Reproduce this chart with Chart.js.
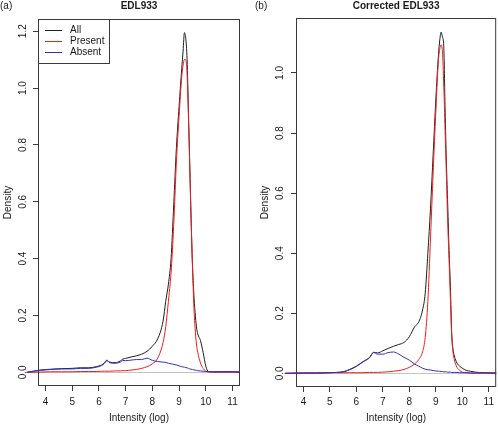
<!DOCTYPE html>
<html><head><meta charset="utf-8">
<script src="https://cdn.jsdelivr.net/npm/chart.js@4.4.0/dist/chart.umd.min.js"></script>
<style>
html,body{margin:0;padding:0;background:#fff;width:498px;height:425px;overflow:hidden}
canvas{position:absolute;top:0;display:block}
</style></head><body>
<canvas id="ca" width="249" height="425" style="left:0"></canvas>
<canvas id="cb" width="249" height="425" style="left:249px"></canvas>
<script>
// ---------- data ----------
const seriesNames = ['All', 'Present', 'Absent'];
const panelTitles = ['EDL933', 'Corrected EDL933'];
const panelTags = ['(a)', '(b)'];
const xTitle = 'Intensity (log)';
const yTitle = 'Density';
const xTicks = [4, 5, 6, 7, 8, 9, 10, 11];
const yTicksA = [0, 0.2, 0.4, 0.6, 0.8, 1.0, 1.2];
const yTicksB = [0, 0.2, 0.4, 0.6, 0.8, 1.0];

// panel (a) EDL933
const intensityA = [3.3, 3.8, 4.2, 4.6, 5.0, 5.3, 5.6, 5.9, 6.1, 6.2, 6.3, 6.4, 6.6, 6.8, 6.9, 7.0, 7.2, 7.4, 7.6, 7.8, 8.0, 8.2, 8.4, 8.5, 8.6, 8.7, 8.8, 8.9, 9.0, 9.1, 9.15, 9.2, 9.25, 9.3, 9.35, 9.4, 9.45, 9.5, 9.55, 9.6, 9.65, 9.7, 9.8, 9.9, 10.0, 10.1, 10.3, 10.6, 11.0, 11.28];
const allA = [0.000, 0.008, 0.011, 0.013, 0.014, 0.016, 0.016, 0.020, 0.026, 0.033, 0.043, 0.036, 0.034, 0.040, 0.047, 0.049, 0.054, 0.058, 0.064, 0.074, 0.092, 0.118, 0.180, 0.250, 0.310, 0.400, 0.590, 0.790, 0.935, 1.070, 1.130, 1.195, 1.175, 1.100, 0.920, 0.730, 0.540, 0.380, 0.280, 0.210, 0.160, 0.135, 0.112, 0.070, 0.022, 0.003, 0.002, 0.002, 0.002, 0.001];
const presentA = [0.000, 0.001, 0.002, 0.002, 0.002, 0.003, 0.003, 0.003, 0.004, 0.004, 0.004, 0.004, 0.005, 0.005, 0.006, 0.006, 0.008, 0.010, 0.014, 0.020, 0.030, 0.050, 0.105, 0.160, 0.250, 0.350, 0.520, 0.740, 0.900, 1.040, 1.080, 1.100, 1.100, 1.050, 0.900, 0.720, 0.540, 0.380, 0.240, 0.155, 0.100, 0.070, 0.033, 0.014, 0.004, 0.002, 0.001, 0.001, 0.001, 0.001];
const absentA = [0.000, 0.007, 0.010, 0.012, 0.012, 0.014, 0.014, 0.018, 0.024, 0.031, 0.041, 0.034, 0.032, 0.036, 0.042, 0.041, 0.043, 0.045, 0.045, 0.050, 0.042, 0.038, 0.036, 0.035, 0.032, 0.030, 0.028, 0.026, 0.023, 0.020, 0.019, 0.018, 0.017, 0.016, 0.014, 0.012, 0.011, 0.010, 0.009, 0.008, 0.007, 0.006, 0.005, 0.004, 0.003, 0.002, 0.002, 0.002, 0.002, 0.001];

// panel (b) Corrected EDL933
const intensityB = [3.3, 4.0, 4.5, 5.0, 5.25, 5.5, 5.75, 6.0, 6.25, 6.5, 6.65, 6.8, 7.0, 7.2, 7.4, 7.6, 7.8, 8.0, 8.2, 8.35, 8.5, 8.6, 8.7, 8.8, 8.9, 9.0, 9.1, 9.15, 9.2, 9.25, 9.3, 9.35, 9.4, 9.45, 9.5, 9.55, 9.6, 9.65, 9.7, 9.8, 9.9, 10.0, 10.15, 10.3, 10.5, 10.8, 11.28];
const allB = [0.000, 0.001, 0.001, 0.002, 0.003, 0.005, 0.013, 0.024, 0.039, 0.053, 0.070, 0.068, 0.075, 0.083, 0.090, 0.096, 0.103, 0.122, 0.155, 0.170, 0.211, 0.267, 0.400, 0.550, 0.730, 0.910, 1.060, 1.110, 1.136, 1.120, 1.089, 0.880, 0.700, 0.560, 0.410, 0.290, 0.135, 0.080, 0.058, 0.034, 0.024, 0.017, 0.010, 0.007, 0.004, 0.002, 0.001];
const presentB = [0.000, 0.001, 0.001, 0.002, 0.002, 0.002, 0.002, 0.002, 0.002, 0.003, 0.003, 0.003, 0.004, 0.005, 0.007, 0.009, 0.013, 0.020, 0.031, 0.045, 0.072, 0.120, 0.240, 0.450, 0.670, 0.870, 1.044, 1.080, 1.094, 1.070, 0.960, 0.810, 0.660, 0.500, 0.380, 0.250, 0.125, 0.070, 0.045, 0.020, 0.010, 0.004, 0.002, 0.001, 0.001, 0.001, 0.001];
const absentB = [0.000, 0.001, 0.001, 0.002, 0.003, 0.005, 0.012, 0.023, 0.038, 0.052, 0.069, 0.064, 0.064, 0.069, 0.071, 0.064, 0.053, 0.044, 0.031, 0.024, 0.017, 0.014, 0.012, 0.011, 0.009, 0.008, 0.007, 0.007, 0.006, 0.006, 0.005, 0.005, 0.005, 0.004, 0.004, 0.004, 0.003, 0.003, 0.003, 0.003, 0.002, 0.002, 0.002, 0.001, 0.001, 0.001, 0.001];

// ---------- styling ----------
const FONT = "'Liberation Sans', Arial, Helvetica, sans-serif";
const lineColors = ['#1e1e1e', '#f21c1c', '#2f2fc4'];
const axisColor = '#3a3a3a';
const textColor = '#1a1a1a';

function makePanel(id, xs, series, yMin, yMax, yTicks, title, tag, g, showLegend) {
  const datasets = series.map((ys, i) => ({
    label: seriesNames[i],
    data: xs.map((x, j) => ({ x: x, y: ys[j] })),
    borderColor: lineColors[i],
    borderWidth: 1,
    pointRadius: 0,
    cubicInterpolationMode: 'monotone',
    fill: false,
    clip: false,
    order: 3 - i
  }));
  const deco = {
    id: 'deco',
    beforeDatasetsDraw(chart) {
      const { ctx, chartArea: a, scales: { x, y } } = chart;
      const y0 = Math.round(y.getPixelForValue(0)) + 0.5;
      ctx.save();
      ctx.strokeStyle = '#c4c4c4';
      ctx.lineWidth = 1;
      ctx.beginPath();
      ctx.moveTo(x.getPixelForValue(xs[0]), y0);
      ctx.lineTo(a.right, y0);
      ctx.stroke();
      ctx.restore();
    },
    afterDraw(chart) {
      const { ctx, chartArea: a } = chart;
      ctx.save();
      ctx.strokeStyle = axisColor;
      ctx.lineWidth = 1;
      ctx.strokeRect(a.left + 0.5, a.top + 0.5, a.right - a.left - 1, a.bottom - a.top - 1);
      ctx.fillStyle = textColor;
      ctx.textBaseline = 'middle';
      ctx.font = 'bold 10px ' + FONT;
      ctx.textAlign = 'center';
      ctx.fillText(title, (a.left + a.right) / 2, 6);
      ctx.font = '10px ' + FONT;
      ctx.textAlign = 'left';
      ctx.fillText(tag, g.tagX, 6);
      if (showLegend) {
        const lx = a.left + 0.5, ly = a.top + 0.5;
        ctx.strokeStyle = axisColor;
        ctx.strokeRect(lx, ly, 71, 44);
        seriesNames.forEach((nm, i) => {
          const yy = a.top + 11 + i * 11;
          ctx.strokeStyle = lineColors[i];
          ctx.beginPath();
          ctx.moveTo(a.left + 7, yy + 0.5);
          ctx.lineTo(a.left + 24, yy + 0.5);
          ctx.stroke();
          ctx.fillStyle = textColor;
          ctx.fillText(nm, a.left + 32, yy + 0.5);
        });
      }
      ctx.restore();
    }
  };
  const tickFont = { family: FONT, size: 10 };
  return new Chart(document.getElementById(id), {
    type: 'line',
    data: { datasets },
    plugins: [deco],
    options: {
      responsive: false,
      animation: false,
      devicePixelRatio: 1,
      layout: { padding: { left: 0, right: g.padR, top: g.padT, bottom: 0 } },
      plugins: { legend: { display: false }, tooltip: { enabled: false }, title: { display: false } },
      scales: {
        x: {
          type: 'linear', min: 3.72, max: 11.28,
          afterBuildTicks: ax => { ax.ticks = xTicks.map(v => ({ value: v })); },
          afterFit: ax => { ax.height = g.xH; },
          grid: { display: true, drawOnChartArea: false, drawTicks: true, tickLength: 5, color: axisColor },
          border: { display: false },
          ticks: { color: textColor, font: tickFont, padding: g.xPad, maxRotation: 0, autoSkip: false,
                   callback: v => String(v) },
          title: { display: true, text: xTitle, color: textColor, font: tickFont, padding: { top: 0, bottom: 1 } }
        },
        y: {
          type: 'linear', min: yMin, max: yMax,
          afterBuildTicks: ax => { ax.ticks = yTicks.map(v => ({ value: v })); },
          afterFit: ax => { ax.width = g.yW; },
          grid: { display: true, drawOnChartArea: false, drawTicks: true, tickLength: 5, color: axisColor },
          border: { display: false },
          ticks: { color: textColor, font: tickFont, padding: g.yPad, minRotation: 90, maxRotation: 90,
                   crossAlign: 'center', autoSkip: false, callback: v => Number(v).toFixed(1) },
          title: { display: true, text: yTitle, color: textColor, font: tickFont, padding: { top: g.yTitlePad, bottom: 0 } }
        }
      }
    }
  });
}

makePanel('ca', intensityA, [allA, presentA, absentA], -0.048, 1.243, yTicksA, panelTitles[0], panelTags[0],
  { padR: 9, padT: 19, xH: 39, yW: 38, yPad: 3, xPad: 5, yTitlePad: 2, tagX: 0 }, true);
makePanel('cb', intensityB, [allB, presentB, absentB], -0.0455, 1.183, yTicksB, panelTitles[1], panelTags[1],
  { padR: 1, padT: 18, xH: 38, yW: 47, yPad: 4, xPad: 4, yTitlePad: 10, tagX: 6 }, false);
</script>
</body></html>
